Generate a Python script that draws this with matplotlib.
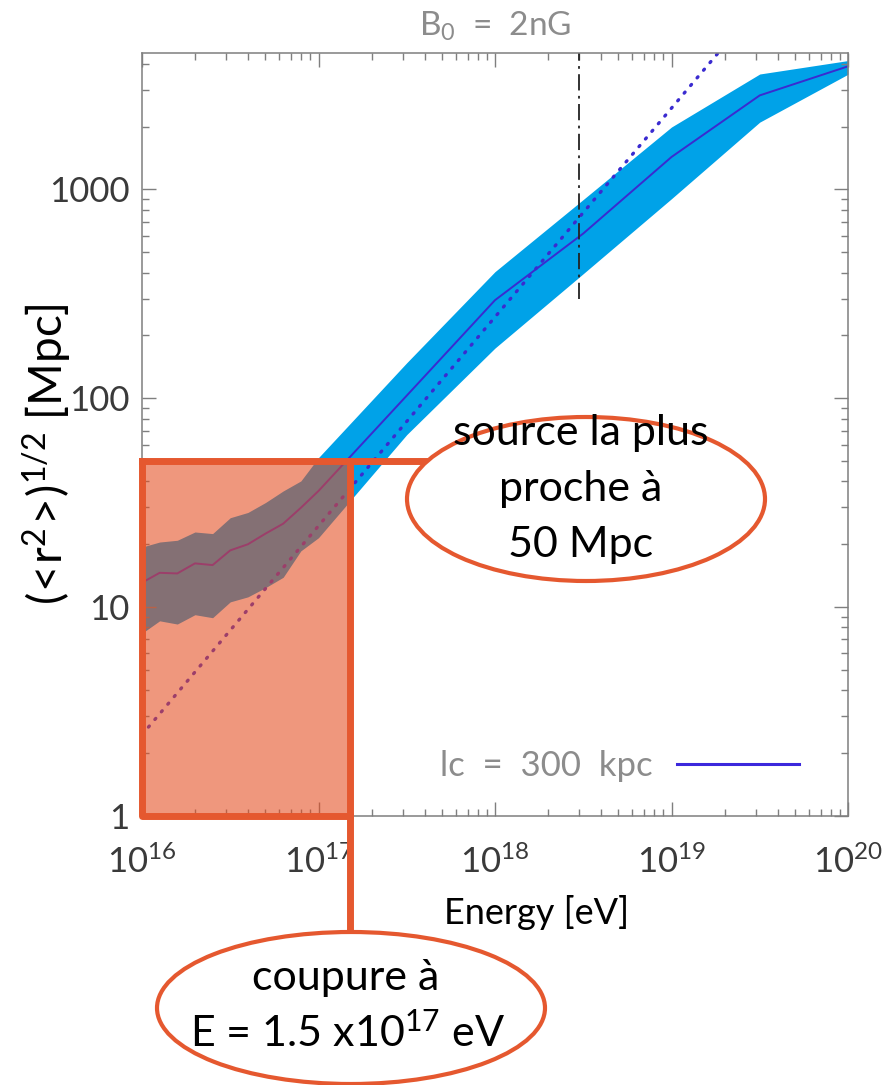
import numpy as np
import matplotlib.pyplot as plt
from matplotlib.patches import Ellipse

# rms distance travelled by protons vs energy, B0 = 2 nG, lc = 300 kpc
log_energy = [16.0, 16.1, 16.2, 16.3, 16.4, 16.5, 16.6, 16.7, 16.8, 16.9,
              17.0, 17.5, 18.0, 18.5, 19.0, 19.5, 20.0]
r_mid = [13.1, 14.6, 14.5, 16.2, 15.9, 18.7, 20.0, 22.5, 25.1, 29.9,
         36.0, 103, 295, 615, 1430, 2820, 3885]
r_high = [19.4, 20.5, 20.9, 22.9, 22.5, 26.8, 28.4, 31.7, 36.0, 40.2,
          52.0, 148, 404, 895, 1990, 3570, 4140]
r_low = [7.5, 8.6, 8.3, 9.2, 8.9, 10.6, 11.2, 12.4, 13.9, 18.6,
         21.5, 67, 174, 395, 903, 2100, 3560]

# straight-line (diffusive) scaling
diff_energy = [1e16, 1e20]
diff_r = [2.45, 24500]

# dash-dot marker at 3e18 eV
mark_energy = 3e18
mark_r = [300, 4500]

# cut: nearest source at 50 Mpc -> E = 1.5e17 eV
e_cut = 1.5e17
r_near = 50

xticks = [1e16, 1e17, 1e18, 1e19, 1e20]
xticklabels = [r'$\mathregular{10^{16}}$', r'$\mathregular{10^{17}}$',
               r'$\mathregular{10^{18}}$', r'$\mathregular{10^{19}}$',
               r'$\mathregular{10^{20}}$']
yticks = [1, 10, 100, 1000]
yticklabels = ['1', '10', '100', '1000']

W, H = 882, 1085
band_col = '#00A2E8'
line_col = '#3a2bd0'
orange = '#E5582F'
box_fill = (228 / 255, 76 / 255, 32 / 255)

fig = plt.figure(figsize=(W / 100, H / 100), dpi=100)
ax = fig.add_axes([142 / W, 1 - 816 / H, 706 / W, 763 / H])

energy = 10 ** np.array(log_energy)
ax.fill_between(energy, r_low, r_high, color=band_col, lw=0, zorder=1)
ax.plot(energy, r_mid, color=line_col, lw=1.4, zorder=2, label='lc  =  300  kpc')
ax.plot(diff_energy, diff_r, color=line_col, lw=2.4, ls=(0, (0.4, 2.6)),
        dash_capstyle='round', zorder=2)
ax.plot([mark_energy, mark_energy], mark_r, color='#222222', lw=1.3,
        ls=(0, (9, 3, 1.5, 3)), zorder=2)

ax.set_xscale('log')
ax.set_yscale('log')
ax.set_xlim(1e16, 1e20)
ax.set_ylim(1, 4500)

ax.set_xticks(xticks, labels=xticklabels, family='Lato')
ax.set_yticks(yticks, labels=yticklabels, family='Lato')
ax.tick_params(which='both', direction='in', top=True, right=True,
               color='#7f7f7f', labelcolor='#3a3a3a', labelsize=25)
ax.tick_params(which='major', length=10, width=1)
ax.tick_params(which='minor', length=5, width=1)
ax.tick_params(axis='x', which='major', pad=21)
ax.tick_params(axis='y', which='major', pad=9)
for s in ax.spines.values():
    s.set_color('#7f7f7f')
    s.set_linewidth(1.1)

ax.set_title(r'$\mathregular{B_0}$  =  2nG', color='#8c8c8c', fontsize=24,
             family='Lato', pad=12)

leg = ax.legend(loc='lower right', bbox_to_anchor=(0.93, 0.045), frameon=False,
                markerfirst=False, handlelength=3.5, handletextpad=0.7,
                borderpad=0, borderaxespad=0, labelcolor='#8c8c8c',
                prop=dict(family='Lato', size=25))
leg.legend_handles[0].set_linewidth(2.2)
leg.legend_handles[0].set_color('#3c28dc')

ax.text(-0.1346, 0.4745, r'$\mathregular{(\!<\!r^{2}\!>\!)^{1/2}}$ [Mpc]',
        transform=ax.transAxes, rotation=90, rotation_mode='anchor',
        ha='center', va='center', fontsize=33, family='Lato')
ax.text(0.5595, -0.1035, 'Energy [eV]', transform=ax.transAxes,
        ha='center', va='top', fontsize=26, family='Lato')

# shaded region below the cut
ax.fill_between([diff_energy[0], e_cut], 1, r_near, color=box_fill, alpha=0.58,
                lw=0, zorder=3)


def to_data(px, py):
    return ax.transData.inverted().transform((px, H - py))


ell1 = (586, 499, 358, 164)
ell2 = (351, 1008, 388, 152)
x_ell1 = to_data(ell1[0], ell1[1])[0]
y_ell2 = to_data(ell2[0], ell2[1])[1]

edge = dict(color=orange, lw=5, solid_capstyle='projecting', clip_on=False, zorder=5)
ax.plot([diff_energy[0], diff_energy[0], e_cut], [r_near, 1, 1], **edge)
ax.plot([diff_energy[0], x_ell1], [r_near, r_near], **edge)
ax.plot([e_cut, e_cut], [r_near, y_ell2], **edge)

for cx, cy, w, h in (ell1, ell2):
    fig.add_artist(Ellipse((cx / W, 1 - cy / H), w / W, h / H,
                           transform=fig.transFigure, facecolor='white',
                           edgecolor=orange, lw=3, zorder=6))

callouts = [
    (581, 445, 'source la plus'),
    (581, 501, 'proche à'),
    (581, 557, '50 Mpc'),
    (346, 990, 'coupure à'),
    (348, 1047, r'E = 1.5 x$\mathregular{10^{17}}$ eV'),
]
for tx, ty, s in callouts:
    fig.text(tx / W, 1 - ty / H, s, ha='center', va='baseline', fontsize=31,
             family='Lato', zorder=7)

fig.savefig('out.png', dpi=100)
